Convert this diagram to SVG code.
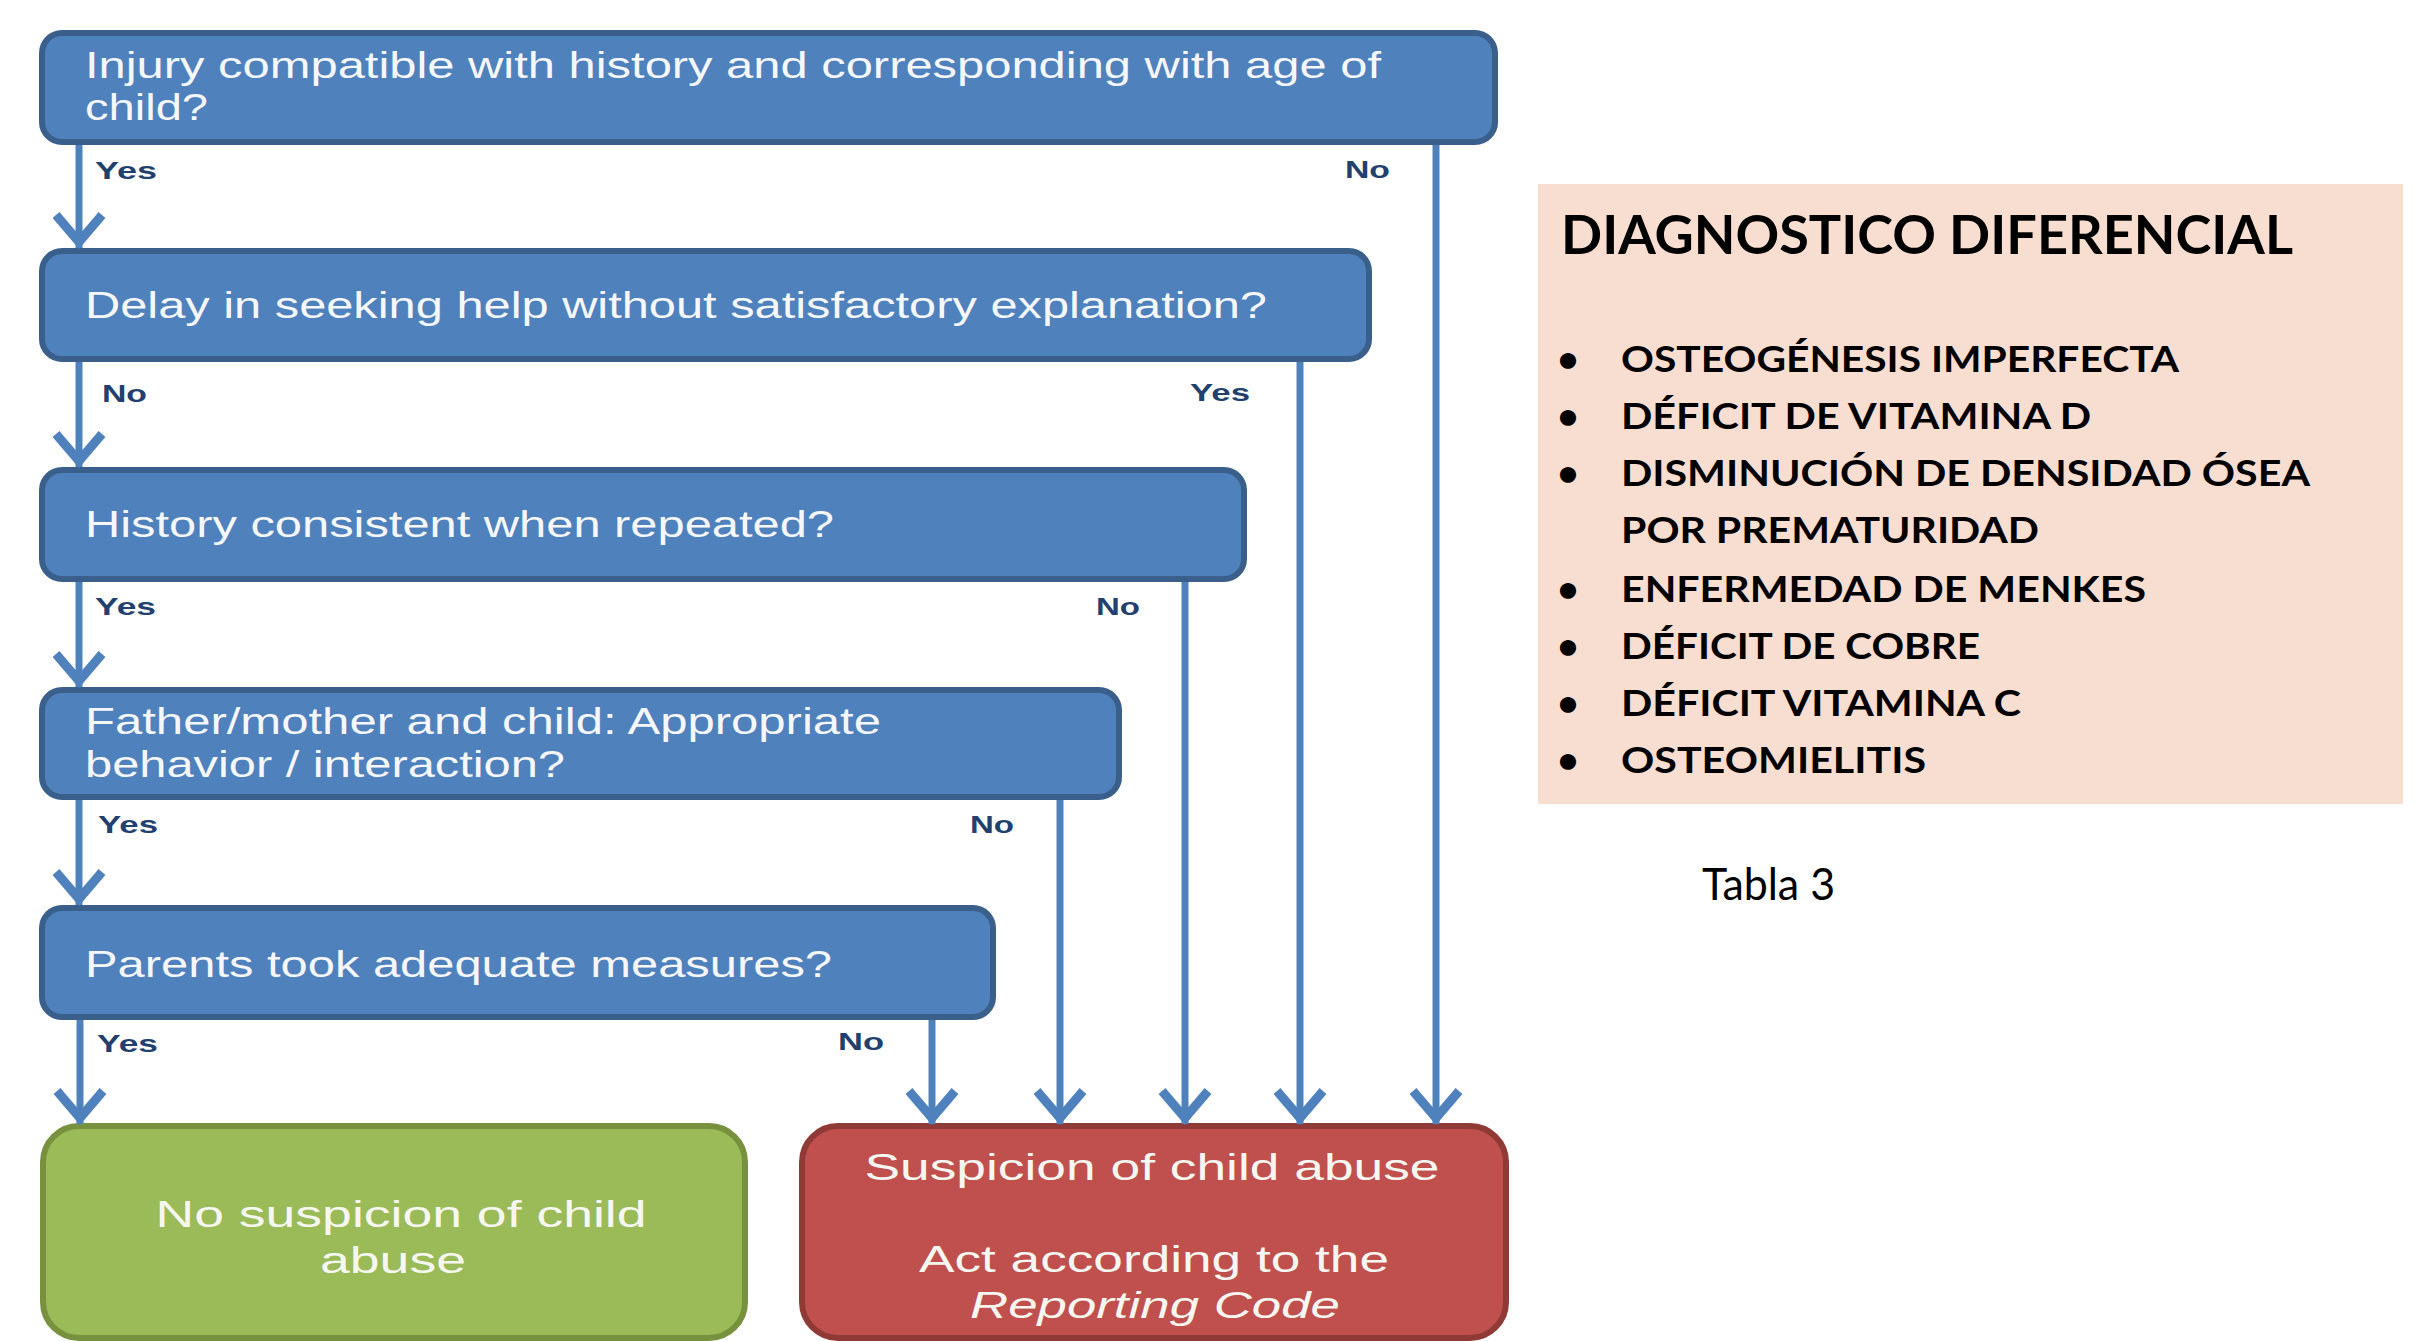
<svg xmlns="http://www.w3.org/2000/svg" width="2420" height="1341" viewBox="0 0 2420 1341">
<style>
.q{fill:#4f81bd;stroke:#3a5f8b;stroke-width:6}
.green{fill:#9bbb59;stroke:#77913f;stroke-width:6}
.red{fill:#c0504d;stroke:#8f3a37;stroke-width:6}
.bt{font-family:"Liberation Sans",Arial,sans-serif;font-size:36px;fill:#f5f7fb}
.et{font-family:"Liberation Sans",Arial,sans-serif;font-size:36px;fill:#f7f7f2}
.lb{font-family:"Liberation Sans",Arial,sans-serif;font-size:24px;font-weight:bold;fill:#22406e}
.cn{stroke:#4f81bd;stroke-width:7;fill:none}
.dx{font-family:Lato,"Open Sans",sans-serif;font-weight:bold;fill:#000}
</style>
<defs>
<marker id="chev" markerUnits="userSpaceOnUse" viewBox="-40 -30 48 60" markerWidth="48" markerHeight="60" refX="0" refY="0" orient="auto" overflow="visible">
<path d="M -33 -23 L -6 0 L -33 23" fill="none" stroke="#4f81bd" stroke-width="9" stroke-linejoin="miter" stroke-miterlimit="10"/>
</marker>
</defs>
<rect width="2420" height="1341" fill="#fff"/>

<g id="q1">
<rect class="q" x="42" y="33" width="1453" height="109" rx="20"/>
<text class="bt" x="85" y="78" textLength="1296" lengthAdjust="spacingAndGlyphs">Injury compatible with history and corresponding with age of</text>
<text class="bt" x="85" y="120" textLength="123" lengthAdjust="spacingAndGlyphs">child?</text>
</g>
<g id="q2">
<rect class="q" x="42" y="251" width="1327" height="108" rx="20"/>
<text class="bt" x="85" y="318" textLength="1182" lengthAdjust="spacingAndGlyphs">Delay in seeking help without satisfactory explanation?</text>
</g>
<g id="q3">
<rect class="q" x="42" y="470" width="1202" height="109" rx="20"/>
<text class="bt" x="85" y="537" textLength="749" lengthAdjust="spacingAndGlyphs">History consistent when repeated?</text>
</g>
<g id="q4">
<rect class="q" x="42" y="690" width="1077" height="107" rx="20"/>
<text class="bt" x="85" y="734" textLength="796" lengthAdjust="spacingAndGlyphs">Father/mother and child: Appropriate</text>
<text class="bt" x="85" y="777" textLength="480" lengthAdjust="spacingAndGlyphs">behavior / interaction?</text>
</g>
<g id="q5">
<rect class="q" x="42" y="908" width="951" height="109" rx="20"/>
<text class="bt" x="85" y="977" textLength="747" lengthAdjust="spacingAndGlyphs">Parents took adequate measures?</text>
</g>
<g id="no-suspicion">
<rect class="green" x="43" y="1126" width="702" height="212" rx="36"/>
<text class="et" x="401" y="1227" text-anchor="middle" font-size="35" textLength="491" lengthAdjust="spacingAndGlyphs">No suspicion of child</text>
<text class="et" x="393" y="1273" text-anchor="middle" font-size="35" textLength="146" lengthAdjust="spacingAndGlyphs">abuse</text>
</g>
<g id="suspicion">
<rect class="red" x="802" y="1126" width="704" height="212" rx="36"/>
<text class="et" x="1152" y="1180" text-anchor="middle" font-size="37" textLength="575" lengthAdjust="spacingAndGlyphs">Suspicion of child abuse</text>
<text class="et" x="1154" y="1272" text-anchor="middle" font-size="37" textLength="470" lengthAdjust="spacingAndGlyphs">Act according to the</text>
<text class="et" x="1155" y="1318" text-anchor="middle" font-size="37" font-style="italic" textLength="370" lengthAdjust="spacingAndGlyphs">Reporting Code</text>
</g>

<g id="connectors">
<line class="cn" x1="79" y1="145" x2="79" y2="248" marker-end="url(#chev)"/>
<line class="cn" x1="79" y1="362" x2="79" y2="467" marker-end="url(#chev)"/>
<line class="cn" x1="79" y1="582" x2="79" y2="687" marker-end="url(#chev)"/>
<line class="cn" x1="79" y1="800" x2="79" y2="905" marker-end="url(#chev)"/>
<line class="cn" x1="80" y1="1020" x2="80" y2="1124" marker-end="url(#chev)"/>
<line class="cn" x1="1436" y1="145" x2="1436" y2="1124" marker-end="url(#chev)"/>
<line class="cn" x1="1300" y1="362" x2="1300" y2="1124" marker-end="url(#chev)"/>
<line class="cn" x1="1185" y1="582" x2="1185" y2="1124" marker-end="url(#chev)"/>
<line class="cn" x1="1060" y1="800" x2="1060" y2="1124" marker-end="url(#chev)"/>
<line class="cn" x1="932" y1="1020" x2="932" y2="1124" marker-end="url(#chev)"/>
<text class="lb" x="95" y="179" textLength="62" lengthAdjust="spacingAndGlyphs">Yes</text>
<text class="lb" x="1345" y="178" textLength="45" lengthAdjust="spacingAndGlyphs">No</text>
<text class="lb" x="102" y="402" textLength="45" lengthAdjust="spacingAndGlyphs">No</text>
<text class="lb" x="1190" y="401" textLength="60" lengthAdjust="spacingAndGlyphs">Yes</text>
<text class="lb" x="95" y="615" textLength="61" lengthAdjust="spacingAndGlyphs">Yes</text>
<text class="lb" x="1096" y="615" textLength="44" lengthAdjust="spacingAndGlyphs">No</text>
<text class="lb" x="98" y="833" textLength="60" lengthAdjust="spacingAndGlyphs">Yes</text>
<text class="lb" x="970" y="833" textLength="44" lengthAdjust="spacingAndGlyphs">No</text>
<text class="lb" x="97" y="1052" textLength="61" lengthAdjust="spacingAndGlyphs">Yes</text>
<text class="lb" x="838" y="1050" textLength="46" lengthAdjust="spacingAndGlyphs">No</text>
</g>

<g id="diagnostico">
<rect x="1538" y="184" width="865" height="620" fill="#f8ddd1"/>
<text class="dx" x="1561" y="254" font-size="54" textLength="732" lengthAdjust="spacingAndGlyphs">DIAGNOSTICO DIFERENCIAL</text>
<g font-size="37">
<text class="dx" x="1568" y="372" text-anchor="middle">•</text>
<text class="dx" x="1621" y="372" textLength="558" lengthAdjust="spacingAndGlyphs">OSTEOGÉNESIS IMPERFECTA</text>
<text class="dx" x="1568" y="429" text-anchor="middle">•</text>
<text class="dx" x="1621" y="429" textLength="470" lengthAdjust="spacingAndGlyphs">DÉFICIT DE VITAMINA D</text>
<text class="dx" x="1568" y="486" text-anchor="middle">•</text>
<text class="dx" x="1621" y="486" textLength="689" lengthAdjust="spacingAndGlyphs">DISMINUCIÓN DE DENSIDAD ÓSEA</text>
<text class="dx" x="1621" y="543" textLength="418" lengthAdjust="spacingAndGlyphs">POR PREMATURIDAD</text>
<text class="dx" x="1568" y="602" text-anchor="middle">•</text>
<text class="dx" x="1621" y="602" textLength="525" lengthAdjust="spacingAndGlyphs">ENFERMEDAD DE MENKES</text>
<text class="dx" x="1568" y="659" text-anchor="middle">•</text>
<text class="dx" x="1621" y="659" textLength="359" lengthAdjust="spacingAndGlyphs">DÉFICIT DE COBRE</text>
<text class="dx" x="1568" y="716" text-anchor="middle">•</text>
<text class="dx" x="1621" y="716" textLength="400" lengthAdjust="spacingAndGlyphs">DÉFICIT VITAMINA C</text>
<text class="dx" x="1568" y="773" text-anchor="middle">•</text>
<text class="dx" x="1621" y="773" textLength="305" lengthAdjust="spacingAndGlyphs">OSTEOMIELITIS</text>
</g>
</g>
<text id="tabla" x="1702" y="900" font-family="Lato,'Open Sans',sans-serif" font-size="44" fill="#000" textLength="133" lengthAdjust="spacingAndGlyphs">Tabla 3</text>
</svg>
